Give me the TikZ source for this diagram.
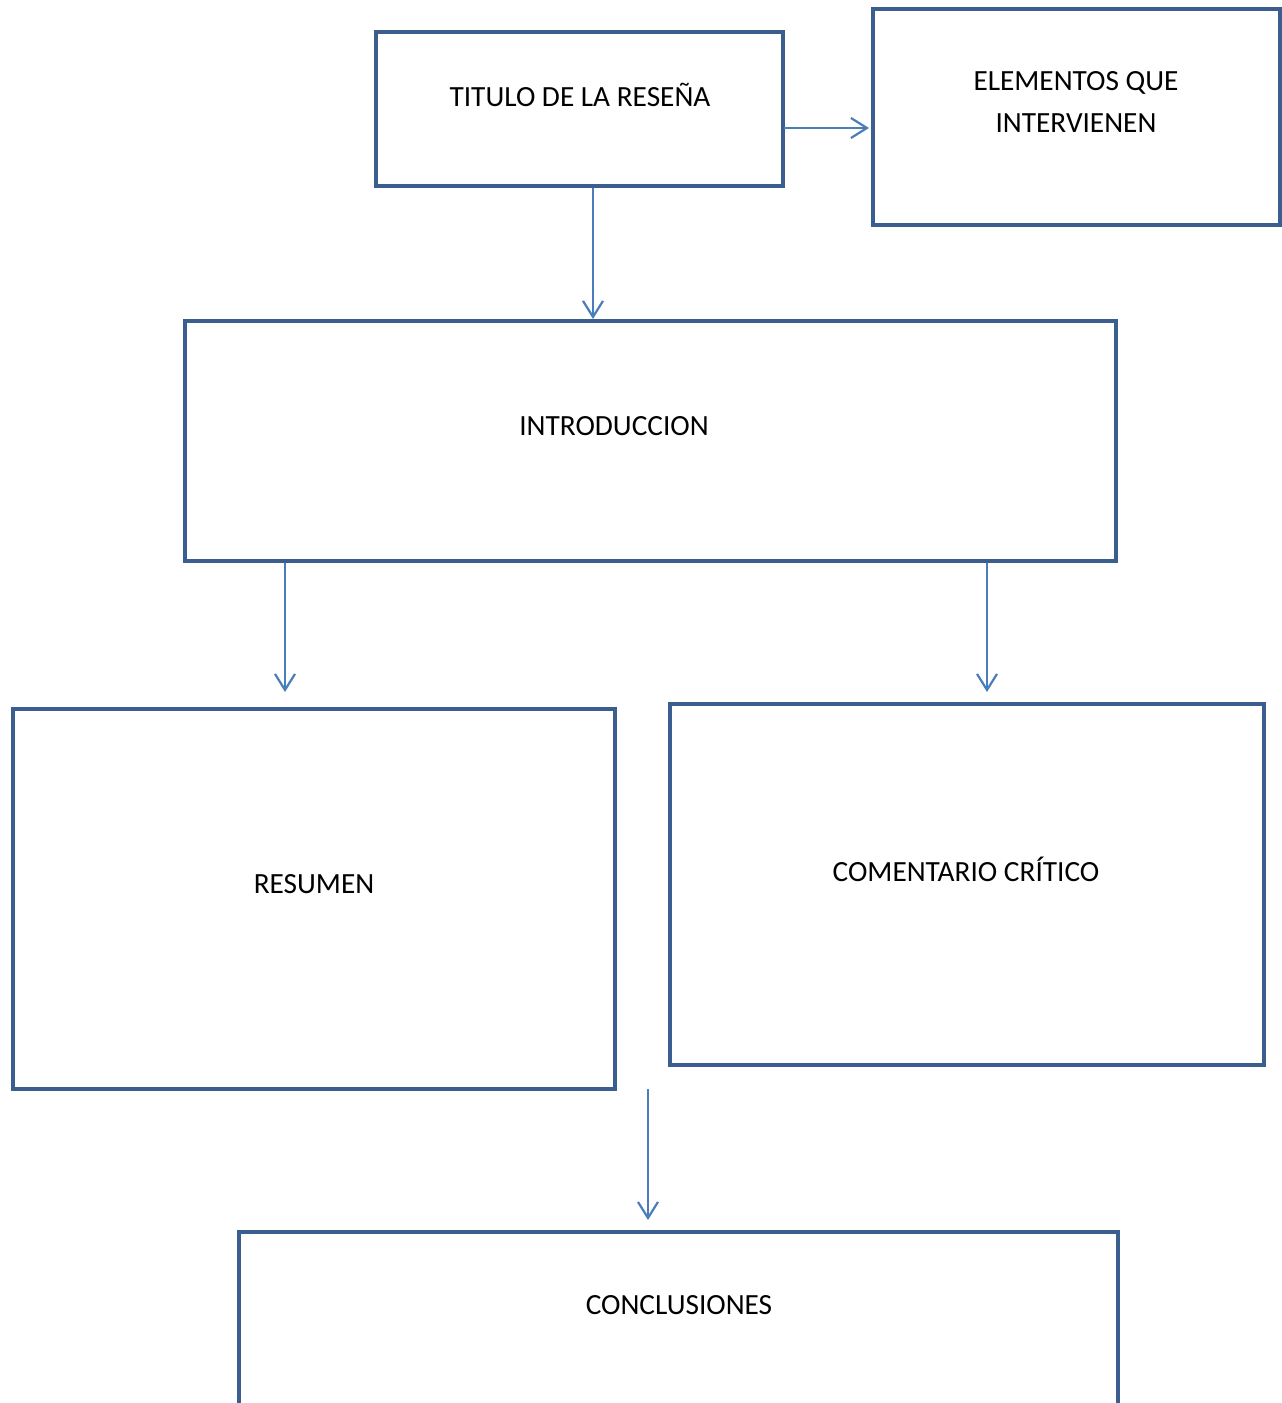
\documentclass[tikz,border=0pt]{standalone}
\usepackage{fontspec}
\setmainfont{Carlito}
\usetikzlibrary{arrows.meta}
\definecolor{boxc}{HTML}{3A5F8F}
\definecolor{arrc}{HTML}{4A7EBB}
\begin{document}
\begin{tikzpicture}[x=1pt,y=-1pt,
  box/.style={draw=boxc,line width=4.6pt,rectangle,inner sep=0pt},
  lbl/.style={inner sep=0pt,align=center,font=\fontsize{29.3}{42}\selectfont},
  conn/.style={draw=arrc,line width=2.2pt,-{Straight Barb[length=16pt,width=20pt,line width=2.2pt]}}]
\useasboundingbox (0,0) rectangle (1282,1403);
\clip (0,0) rectangle (1282,1403);
\fill[white] (0,0) rectangle (1282,1403);
% boxes
\node[box,minimum width=407pt,minimum height=154pt] (tit) at (579.5,109) {};
\node[box,minimum width=407pt,minimum height=216pt] (ele) at (1076.5,117) {};
\node[box,minimum width=931pt,minimum height=240pt] (intro) at (650.5,441) {};
\node[box,minimum width=602pt,minimum height=380pt] (res) at (314,899) {};
\node[box,minimum width=594pt,minimum height=361pt] (com) at (967,884.5) {};
\node[box,minimum width=879pt,minimum height=240pt] (con) at (678.5,1352) {};
% labels
\node[lbl] (titT) at (580,95) {TITULO DE LA RESEÑA};
\node[lbl] (eleT) at (1076,102) {ELEMENTOS QUE\\INTERVIENEN};
\node[lbl] (introT) at (614,426) {INTRODUCCION};
\node[lbl] (resT) at (314,884) {RESUMEN};
\node[lbl] (comT) at (966,869) {COMENTARIO CRÍTICO};
\node[lbl] (conT) at (679,1305) {CONCLUSIONES};
% connectors
\coordinate (a1) at (784,128);
\coordinate (a2) at (869,128);
\draw[conn] (a1) -- (a2);
\coordinate (b1) at (593,188);
\coordinate (b2) at (593,319);
\draw[conn] (b1) -- (b2);
\coordinate (c1) at (285,563);
\coordinate (c2) at (285,692);
\draw[conn] (c1) -- (c2);
\coordinate (d1) at (987,563);
\coordinate (d2) at (987,692);
\draw[conn] (d1) -- (d2);
\coordinate (e1) at (648,1089);
\coordinate (e2) at (648,1220);
\draw[conn] (e1) -- (e2);
\end{tikzpicture}
\end{document}
